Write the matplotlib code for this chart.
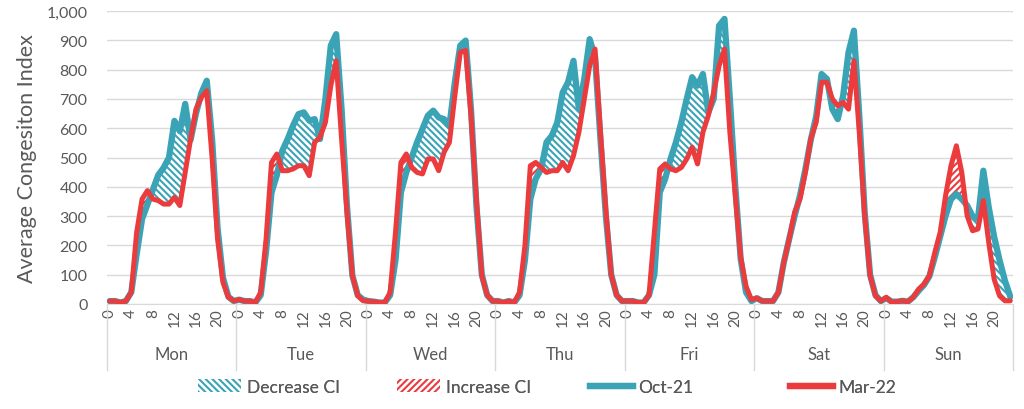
import numpy as np
import matplotlib
matplotlib.use("Agg")
import matplotlib.pyplot as plt
from matplotlib.patches import Patch
from matplotlib.lines import Line2D

# данные: средний индекс заторов по часам (0..23) для каждого дня
days = ["Mon", "Tue", "Wed", "Thu", "Fri", "Sat", "Sun"]
hour_ticks = [0, 4, 8, 12, 16, 20]

oct21 = [
    10, 10, 5, 10, 40, 170, 290, 340, 390, 440, 465, 500, 625, 590, 683, 560, 650, 720, 762, 560, 260, 90, 25, 10,      # Mon
    15, 10, 10, 5, 30, 180, 380, 440, 523, 563, 609, 648, 654, 626, 631, 563, 700, 882, 921, 665, 335, 97, 30, 15,      # Tue
    10, 8, 5, 5, 30, 150, 381, 449, 500, 552, 597, 643, 660, 637, 631, 609, 757, 882, 899, 665, 336, 100, 30, 10,       # Wed
    10, 5, 10, 5, 30, 150, 358, 427, 461, 552, 575, 620, 722, 757, 830, 665, 768, 904, 842, 563, 301, 100, 30, 10,      # Thu
    10, 10, 5, 5, 30, 100, 381, 427, 495, 552, 620, 700, 774, 745, 785, 654, 700, 950, 973, 700, 404, 154, 40, 10,      # Fri
    20, 10, 10, 10, 40, 142, 222, 300, 370, 460, 560, 640, 785, 768, 665, 631, 711, 859, 933, 643, 313, 100, 30, 10,    # Sat
    20, 8, 8, 11, 8, 23, 45, 65, 95, 160, 230, 301, 358, 375, 358, 336, 300, 290, 455, 330, 230, 150, 80, 25,           # Sun
]

mar22 = [
    10, 10, 5, 10, 40, 245, 358, 387, 358, 353, 341, 341, 364, 336, 450, 563, 665, 705, 728, 495, 222, 74, 23, 11,      # Mon
    15, 10, 10, 5, 40, 222, 483, 512, 455, 455, 461, 472, 472, 438, 552, 569, 620, 745, 830, 563, 313, 97, 28, 11,      # Tue
    10, 8, 5, 5, 40, 245, 483, 512, 466, 449, 444, 495, 495, 455, 518, 552, 711, 859, 865, 643, 358, 97, 30, 10,        # Wed
    10, 5, 10, 5, 40, 200, 472, 483, 466, 449, 455, 455, 483, 455, 506, 586, 700, 813, 870, 586, 320, 100, 30, 10,      # Thu
    10, 10, 5, 5, 30, 245, 461, 478, 461, 455, 466, 495, 535, 478, 586, 643, 722, 813, 870, 586, 370, 160, 60, 15,      # Fri
    20, 10, 10, 10, 40, 142, 222, 313, 358, 449, 563, 620, 757, 757, 700, 677, 688, 665, 830, 586, 301, 97, 28, 10,     # Sat
    23, 6, 8, 11, 8, 23, 51, 68, 97, 176, 245, 370, 472, 540, 449, 301, 250, 256, 353, 210, 85, 28, 11, 11,             # Sun
]

BLUE = "#3AA3B6"
RED = "#EB3B3D"
GRAY = "#595959"
GRID = "#D9D9D9"

plt.rcParams["font.family"] = ["Lato", "DejaVu Sans"]
plt.rcParams["hatch.linewidth"] = 1.5

x = np.arange(len(oct21))
y_oct = np.array(oct21, dtype=float)
y_mar = np.array(mar22, dtype=float)

fig = plt.figure(figsize=(10.24, 4.10), dpi=100)
ax = fig.add_axes([107 / 1024, 105 / 410, 906 / 1024, 293 / 410])

# заливки между линиями
ax.fill_between(x, y_mar, y_oct, where=y_oct >= y_mar, interpolate=True,
                facecolor="white", edgecolor=BLUE, hatch="\\\\\\\\\\", linewidth=0, zorder=2)
ax.fill_between(x, y_mar, y_oct, where=y_mar >= y_oct, interpolate=True,
                facecolor="white", edgecolor=RED, hatch="/////", linewidth=0, zorder=2)

ax.plot(x, y_oct, color=BLUE, lw=4.5, solid_joinstyle="round", solid_capstyle="round", zorder=3)
ax.plot(x, y_mar, color=RED, lw=3.6, solid_joinstyle="round", solid_capstyle="round", zorder=4)

ax.set_xlim(-0.5, len(x) - 0.5)
ax.set_ylim(0, 1000)
ax.set_yticks(np.arange(0, 1001, 100))
ax.yaxis.set_major_formatter(matplotlib.ticker.StrMethodFormatter("{x:,.0f}"))
ax.grid(axis="y", color=GRID, lw=1)
ax.set_axisbelow(True)

ticks = [d * 24 + h for d in range(len(days)) for h in hour_ticks]
labels = [str(h) for d in range(len(days)) for h in hour_ticks]
ax.set_xticks(ticks)
ax.set_xticklabels(labels, rotation=90)
ax.tick_params(axis="x", length=0, pad=3, labelsize=11, colors=GRAY)
ax.tick_params(axis="y", length=0, pad=14, labelsize=11.5, colors=GRAY)

for s in ["top", "right", "left"]:
    ax.spines[s].set_visible(False)
ax.spines["bottom"].set_color(GRID)

# разделители и подписи дней
tr = ax.get_xaxis_transform()
for k in range(len(days) + 1):
    ax.plot([k * 24 - 0.5] * 2, [0, -0.225], transform=tr, color=GRID, lw=1, clip_on=False)
for k, d in enumerate(days):
    ax.text(k * 24 + 11.5, -0.172, d, transform=tr, ha="center", va="center",
            fontsize=12, color=GRAY)

ax.set_ylabel("Average Congesiton Index", fontsize=15.5, color=GRAY, labelpad=7)

# легенда: равные колонки, как в Excel
handles = [
    Patch(facecolor="white", edgecolor=BLUE, hatch="\\\\\\\\\\", linewidth=0),
    Patch(facecolor="white", edgecolor=RED, hatch="/////", linewidth=0),
    Line2D([], [], color=BLUE, lw=4.5),
    Line2D([], [], color=RED, lw=4.5),
]
names = ["Decrease CI", "Increase CI", "Oct-21", "Mar-22"]
starts = [198, 397, 590, 790]
for h, n, sx in zip(handles, names, starts):
    leg = fig.legend([h], [n], loc="center left", bbox_to_anchor=(sx / 1024, 0.054),
                     frameon=False, fontsize=12.5, labelcolor=GRAY, handlelength=2.5,
                     handleheight=0.8, handletextpad=0.3, borderpad=0, borderaxespad=0)
    fig.add_artist(leg)

fig.savefig("out.png", dpi=100)
